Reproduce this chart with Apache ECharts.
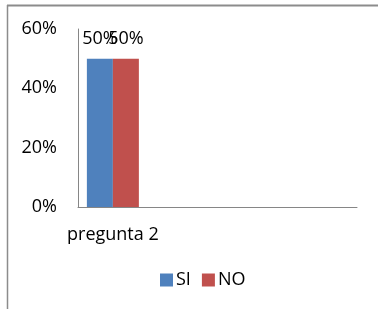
<!DOCTYPE html>
<html>
<head>
<meta charset="utf-8">
<script src="https://cdn.jsdelivr.net/npm/echarts@6/dist/echarts.min.js"></script>
<style>html,body{margin:0;padding:0;background:#fff;}#c{width:378px;height:309px;}</style>
</head>
<body>
<div id="c"></div>
<script>
const categories = ['pregunta 2', '', '', ''];
const seriesNames = ['SI', 'NO'];
const siValues = [50, null, null, null];
const noValues = [50, null, null, null];
const yTicks = [0, 20, 40, 60];

const FONT = 'Open Sans';
const FS = 18;
const chart = echarts.init(document.getElementById('c'), null, {renderer: 'canvas'});
chart.setOption({
  animation: false,
  backgroundColor: '#fff',
  textStyle: {fontFamily: FONT},
  graphic: [
    {type: 'line', shape: {x1: 7, y1: 5.5, x2: 378, y2: 5.5}, style: {stroke: '#8c8c8c', lineWidth: 2}},
    {type: 'line', shape: {x1: 7.5, y1: 5, x2: 7.5, y2: 309}, style: {stroke: '#8c8c8c', lineWidth: 1.5}}
  ],
  grid: {left: 78, right: 21, top: 29, bottom: 102, containLabel: false},
  legend: {
    data: seriesNames,
    left: 155, top: 266,
    itemWidth: 13, itemHeight: 13, itemGap: 11,
    icon: 'rect',
    textStyle: {fontFamily: FONT, fontSize: FS, color: '#000', padding: [0,0,0,-2]}
  },
  xAxis: {
    type: 'category',
    data: categories,
    axisLine: {show: true, lineStyle: {color: '#868686', width: 1}},
    axisTick: {show: false},
    axisLabel: {fontFamily: FONT, fontSize: FS, color: '#000', margin: 19, interval: 0}
  },
  yAxis: {
    type: 'value',
    min: yTicks[0], max: yTicks[yTicks.length - 1], interval: 20,
    axisLine: {show: true, lineStyle: {color: '#868686', width: 1}},
    axisTick: {show: false},
    splitLine: {show: false},
    axisLabel: {fontFamily: FONT, fontSize: FS, color: '#000', margin: 21, formatter: v => v + '%'}
  },
  series: [
    {name: seriesNames[0], type: 'bar', data: siValues, barWidth: 26, barGap: '0%',
     itemStyle: {color: '#4F81BD'},
     label: {show: true, position: 'top', distance: 11, formatter: p => p.value + '%', fontFamily: FONT, fontSize: FS, color: '#000'}},
    {name: seriesNames[1], type: 'bar', data: noValues, barWidth: 26, barGap: '0%',
     itemStyle: {color: '#C0504D'},
     label: {show: true, position: 'top', distance: 11, formatter: p => p.value + '%', fontFamily: FONT, fontSize: FS, color: '#000'}}
  ]
});
</script>
</body>
</html>
